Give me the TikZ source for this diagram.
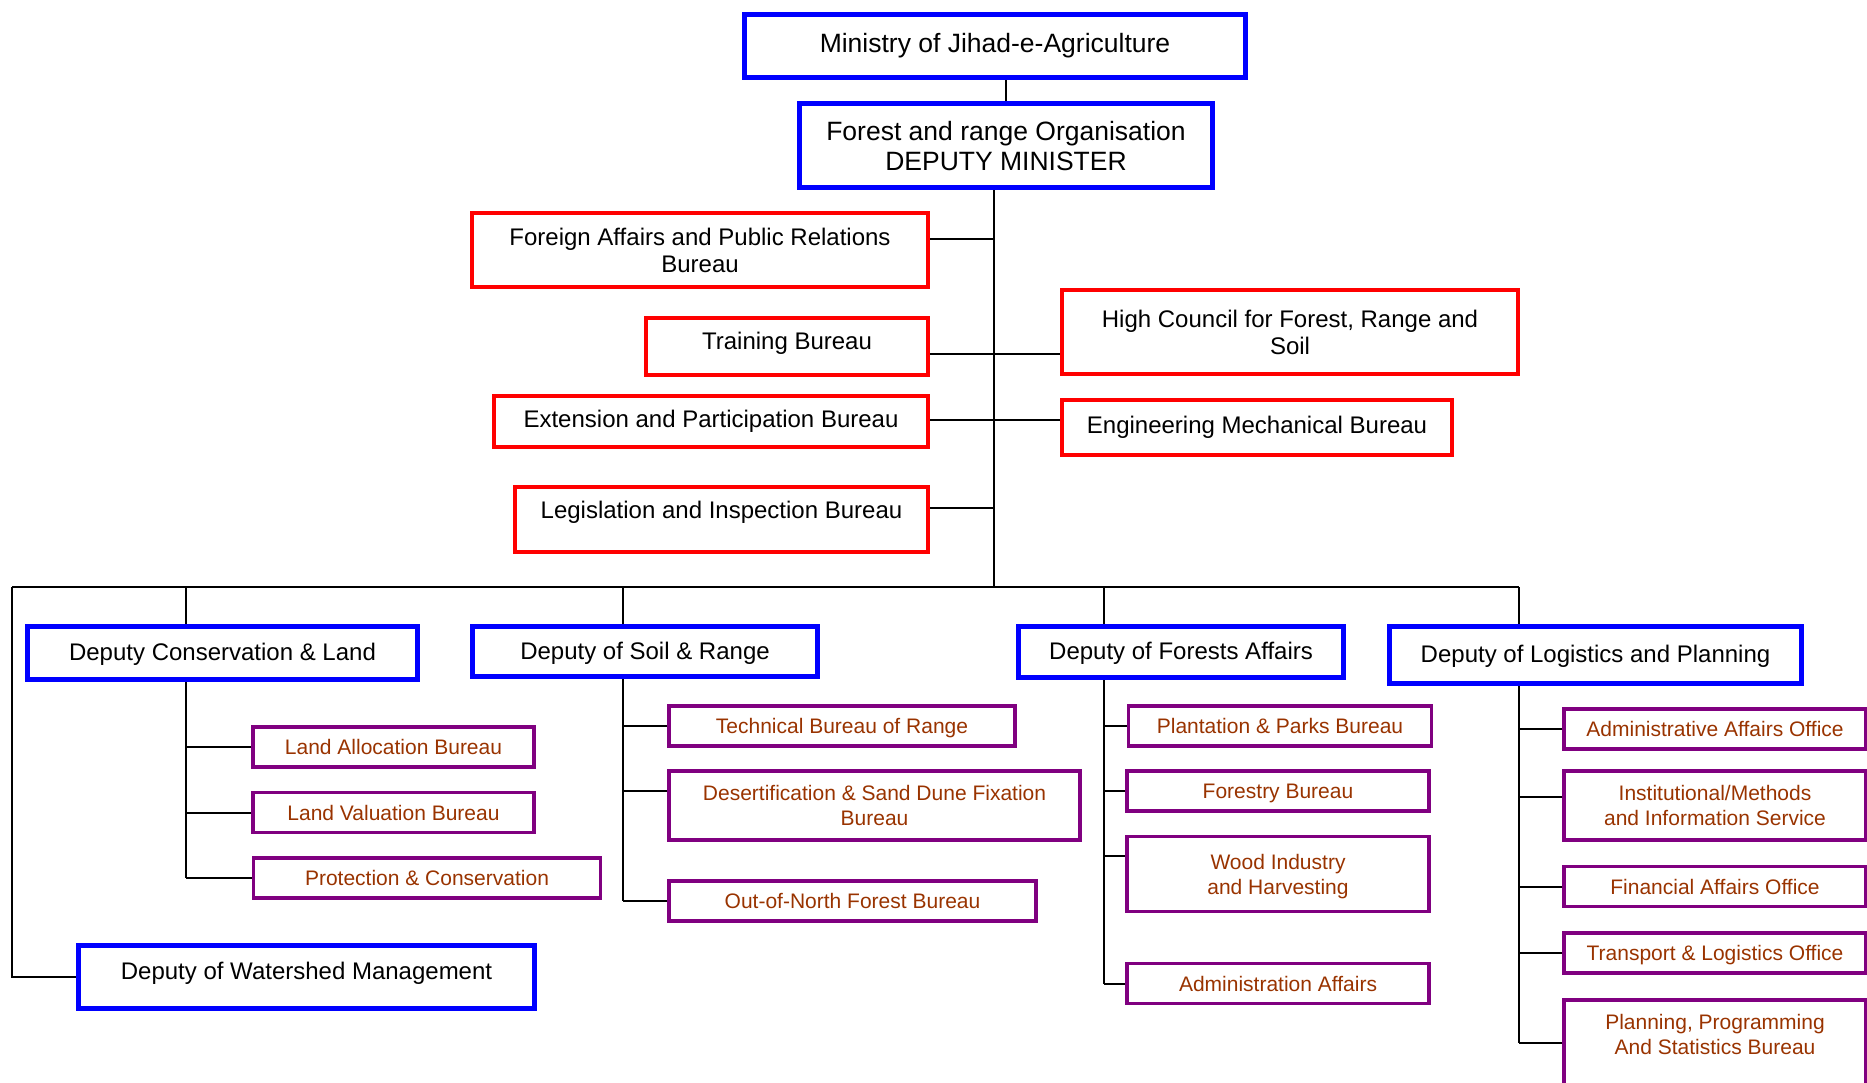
\documentclass[tikz,border=0pt]{standalone}
\usepackage{fontspec}
\setmainfont{Liberation Sans}
\definecolor{boxblue}{RGB}{0,0,255}
\definecolor{boxred}{RGB}{255,0,0}
\definecolor{boxpurple}{RGB}{128,0,128}
\definecolor{subtext}{RGB}{153,51,0}
\begin{document}
\begin{tikzpicture}[x=1pt,y=-1pt,
  wh/.style 2 args={minimum width=#1pt,minimum height=#2pt},
  topbox/.style={draw=boxblue,line width=5pt,align=center,inner sep=0pt,font=\fontsize{26.5}{30}\selectfont},
  depbox/.style={draw=boxblue,line width=5pt,align=center,inner sep=0pt,text depth=2pt,font=\fontsize{24}{27}\selectfont},
  redbox/.style={draw=boxred,line width=4pt,align=center,inner sep=0pt,font=\fontsize{24}{27}\selectfont},
  subbox/.style={draw=boxpurple,line width=3.5pt,align=center,inner sep=0pt,text depth=0pt,text=subtext,font=\fontsize{21}{25}\selectfont},
  link/.style={line width=2pt}]
\useasboundingbox (0,0) rectangle (1867,1083);
\clip (0,0) rectangle (1867,1083);
\node[topbox,wh={501}{63}] (min) at (995,46) {Ministry of Jihad-e-Agriculture};
\node[topbox,wh={413}{84}] (dm) at (1006,146) {Forest and range Organisation\\DEPUTY MINISTER};
\node[redbox,wh={456}{74}] (fa) at (700,250) {Foreign Affairs and Public Relations\\Bureau};
\node[redbox,wh={282}{57},text depth=10pt] (tr) at (787,346) {Training Bureau};
\node[redbox,wh={434}{51}] (ex) at (711,421.5) {Extension and Participation Bureau};
\node[redbox,wh={413}{65},text depth=19pt] (le) at (721.5,519.5) {Legislation and Inspection Bureau};
\node[redbox,wh={456}{84}] (hc) at (1290,332) {High Council for Forest, Range and\\Soil};
\node[redbox,wh={390}{55}] (em) at (1257,427.5) {Engineering Mechanical Bureau};
\node[depbox,wh={390}{53}] (dc) at (222.5,653) {Deputy Conservation \& Land};
\node[depbox,wh={345}{50}] (ds) at (645,651.5) {Deputy of Soil \& Range};
\node[depbox,wh={325}{51}] (df) at (1181,652) {Deputy of Forests Affairs};
\node[depbox,wh={412}{57}] (dl) at (1595.5,655) {Deputy of Logistics and Planning};
\node[depbox,wh={456}{63},text depth=12pt] (dw) at (306.5,977) {Deputy of Watershed Management};
\node[subbox,wh={281}{40}] (la) at (393.5,747) {Land Allocation Bureau};
\node[subbox,wh={281}{40}] (lv) at (393.5,812.5) {Land Valuation Bureau};
\node[subbox,wh={347}{40}] (pc) at (427,878) {Protection \& Conservation};
\node[subbox,wh={346}{40}] (tb) at (842,726) {Technical Bureau of Range};
\node[subbox,wh={411}{69}] (sd) at (874.5,805.5) {Desertification \& Sand Dune Fixation\\Bureau};
\node[subbox,wh={367}{40}] (on) at (852.5,901) {Out-of-North Forest Bureau};
\node[subbox,wh={303}{40}] (pp) at (1280,726) {Plantation \& Parks Bureau};
\node[subbox,wh={302}{40}] (fb) at (1278,791) {Forestry Bureau};
\node[subbox,wh={302}{75}] (wi) at (1278,874) {Wood Industry\\and Harvesting};
\node[subbox,wh={302}{40}] (aa) at (1278,983.5) {Administration Affairs};
\node[subbox,wh={302}{40}] (ao) at (1715,729) {Administrative Affairs Office};
\node[subbox,wh={302}{69}] (is) at (1715,805.5) {Institutional/Methods\\and Information Service};
\node[subbox,wh={302}{40}] (fo) at (1715,886.5) {Financial Affairs Office};
\node[subbox,wh={302}{40}] (to) at (1715,953) {Transport \& Logistics Office};
\node[subbox,wh={302}{100},text depth=32pt] (ps) at (1715,1050) {Planning, Programming\\And Statistics Bureau};
\coordinate (trunk) at (994,587);
\coordinate (cw) at (12,587);
\coordinate (cc) at (186,587);
\coordinate (cs) at (623,587);
\coordinate (cf) at (1104,587);
\coordinate (cg) at (1519,587);
\draw[link] (dm.north) -- (dm.north |- min.south);
\draw[link] (dm.south -| trunk) -- (trunk);
\draw[link] ([yshift=11pt]fa.east) -- ([yshift=11pt]fa.east -| trunk);
\draw[link] ([yshift=-8pt]tr.east) -- ([yshift=-8pt]tr.east -| hc.west);
\draw[link] ([yshift=2pt]ex.east) -- ([yshift=2pt]ex.east -| em.west);
\draw[link] ([yshift=12pt]le.east) -- ([yshift=12pt]le.east -| trunk);
\draw[link] (cw) -- (cg);
\draw[link] (cw) |- (dw.west);
\draw[link] (cc) -- (cc |- dc.north);
\draw[link] (cs) -- (cs |- ds.north);
\draw[link] (cf) -- (cf |- df.north);
\draw[link] (cg) -- (cg |- dl.north);
\draw[link] (cc |- dc.south) -- (cc |- pc.west);
\draw[link] (la.west) -- (la.west -| cc);
\draw[link] (lv.west) -- (lv.west -| cc);
\draw[link] (pc.west) -- (pc.west -| cc);
\draw[link] (cs |- ds.south) -- (cs |- on.west);
\draw[link] (tb.west) -- (tb.west -| cs);
\draw[link] ([yshift=15pt]sd.west) -- ([yshift=15pt]sd.west -| cs);
\draw[link] (on.west) -- (on.west -| cs);
\draw[link] (cf |- df.south) -- (cf |- aa.west);
\draw[link] (pp.west) -- (pp.west -| cf);
\draw[link] (fb.west) -- (fb.west -| cf);
\draw[link] ([yshift=18pt]wi.west) -- ([yshift=18pt]wi.west -| cf);
\draw[link] (aa.west) -- (aa.west -| cf);
\draw[link] (cg |- dl.south) -- ([yshift=7pt]cg |- ps.west);
\draw[link] (ao.west) -- (ao.west -| cg);
\draw[link] ([yshift=9pt]is.west) -- ([yshift=9pt]is.west -| cg);
\draw[link] (fo.west) -- (fo.west -| cg);
\draw[link] (to.west) -- (to.west -| cg);
\draw[link] ([yshift=7pt]ps.west) -- ([yshift=7pt]ps.west -| cg);
\end{tikzpicture}
\end{document}
